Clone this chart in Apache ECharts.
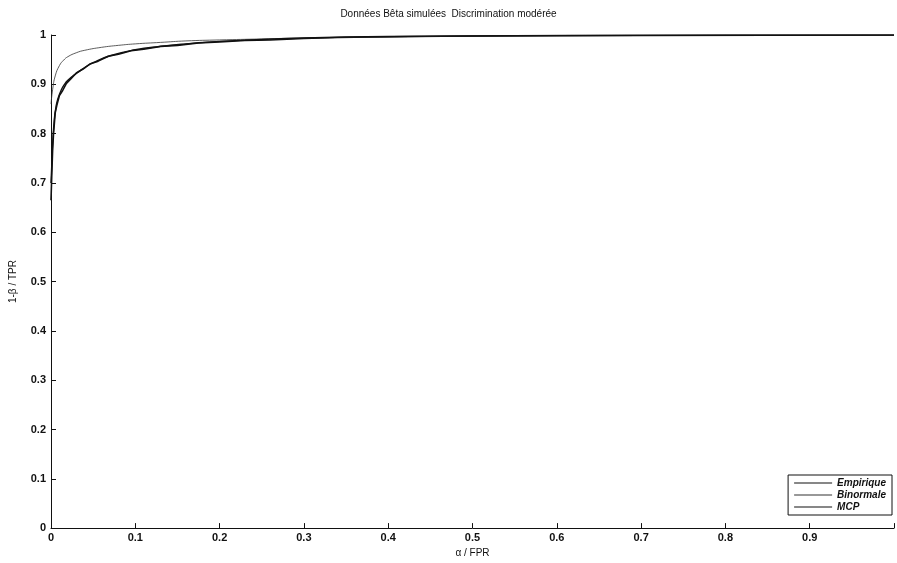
<!DOCTYPE html>
<html>
<head>
<meta charset="utf-8">
<title>Données Bêta simulées</title>
<script src="https://cdn.jsdelivr.net/npm/echarts@6/dist/echarts.min.js"></script>
<style>
  html, body { margin: 0; padding: 0; background: #fff; }
  #chart { width: 897px; height: 563px; }
</style>
</head>
<body>
<div id="chart"></div>
<script>
// ROC curves
var titleText = 'Données Bêta simulées  Discrimination modérée'
var seriesNames = ['Empirique', 'Binormale', 'MCP']

var empX = [0, 0.001, 0.002, 0.003, 0.005, 0.007, 0.01, 0.014, 0.018, 0.024, 0.03, 0.038, 0.046, 0.056, 0.068, 0.08, 0.095, 0.11, 0.13, 0.15, 0.175, 0.2, 0.23, 0.26, 0.3, 0.34, 0.38, 0.43, 0.5, 0.6, 0.8, 1.0]
var empY = [0.665, 0.72, 0.77, 0.8, 0.842, 0.858, 0.877, 0.888, 0.901, 0.912, 0.923, 0.931, 0.941, 0.947, 0.957, 0.961, 0.968, 0.971, 0.977, 0.979, 0.984, 0.986, 0.989, 0.99, 0.993, 0.995, 0.996, 0.997, 0.998, 0.999, 1, 1]

var binX = [0, 0.002, 0.005, 0.01, 0.015, 0.02, 0.03, 0.04, 0.06, 0.08, 0.1, 0.13, 0.16, 0.2, 0.25, 0.3, 0.4, 0.5, 0.6, 0.8, 1.0]
var binY = [0.86, 0.89, 0.917, 0.938, 0.949, 0.956, 0.964, 0.969, 0.975, 0.979, 0.982, 0.985, 0.988, 0.99, 0.992, 0.994, 0.996, 0.998, 0.999, 0.9995, 1]

var mcpX = [0, 0.001, 0.002, 0.004, 0.006, 0.008, 0.012, 0.016, 0.02, 0.03, 0.04, 0.05, 0.07, 0.1, 0.13, 0.16, 0.2, 0.25, 0.3, 0.4, 0.5, 0.7, 1.0]
var mcpY = [0.7, 0.74, 0.78, 0.83, 0.855, 0.87, 0.888, 0.9, 0.908, 0.922, 0.934, 0.944, 0.958, 0.97, 0.977, 0.982, 0.987, 0.991, 0.994, 0.997, 0.998, 0.999, 1]

function pairs(xs, ys) {
  return xs.map(function (x, i) { return [x, ys[i]] })
}

var font = 'Liberation Sans, Arial, sans-serif'
var chart = echarts.init(document.getElementById('chart'))

chart.setOption({
  animation: false,
  backgroundColor: '#fff',
  title: {
    text: titleText,
    left: 'center',
    top: 4,
    textStyle: {
      fontFamily: font,
      fontSize: 10,
      fontWeight: 'normal',
      color: '#111'
    }
  },
  grid: {
    left: 50,
    right: 0,
    top: 35,
    bottom: 32
  },
  legend: {
    orient: 'vertical',
    right: 5,
    top: 475,
    padding: [3, 6, 3, 6],
    itemGap: 2,
    itemWidth: 38,
    itemHeight: 12,
    borderColor: '#111',
    borderWidth: 1,
    backgroundColor: '#fff',
    data: seriesNames.map(function (n) {
      return { name: n, icon: 'path://M0,5 L38,5 L38,6 L0,6 Z' }
    }),
    textStyle: {
      fontFamily: font,
      fontSize: 10,
      fontStyle: 'italic',
      fontWeight: 'bold',
      color: '#111'
    }
  },
  xAxis: {
    type: 'value',
    min: 0,
    max: 1,
    interval: 0.1,
    name: 'α / FPR',
    nameLocation: 'middle',
    nameGap: 19,
    nameTextStyle: { fontFamily: font, fontSize: 10, color: '#111' },
    splitLine: { show: false },
    axisLine: { lineStyle: { color: '#111', width: 1 } },
    axisTick: { inside: true, length: 5, lineStyle: { color: '#111' } },
    axisLabel: {
      fontFamily: font,
      fontSize: 11,
      fontWeight: 'bold',
      color: '#111',
      margin: 4,
      formatter: function (v) { return v >= 1 ? '' : String(+v.toFixed(1)) }
    }
  },
  yAxis: {
    type: 'value',
    min: 0,
    max: 1,
    interval: 0.1,
    name: '1-β / TPR',
    nameLocation: 'middle',
    nameGap: 33,
    nameTextStyle: { fontFamily: font, fontSize: 10, color: '#111' },
    splitLine: { show: false },
    axisLine: { show: true, lineStyle: { color: '#111', width: 1 } },
    axisTick: { inside: true, length: 5, lineStyle: { color: '#111' } },
    axisLabel: {
      fontFamily: font,
      fontSize: 11,
      fontWeight: 'bold',
      color: '#111',
      margin: 5,
      formatter: function (v) { return String(+v.toFixed(1)) }
    }
  },
  series: [
    {
      name: seriesNames[0],
      type: 'line',
      showSymbol: false,
      data: pairs(empX, empY),
      lineStyle: { color: '#111', width: 1.6 },
      itemStyle: { color: '#111' }
    },
    {
      name: seriesNames[1],
      type: 'line',
      smooth: true,
      showSymbol: false,
      data: pairs(binX, binY),
      lineStyle: { color: '#333', width: 0.8 },
      itemStyle: { color: '#333' }
    },
    {
      name: seriesNames[2],
      type: 'line',
      smooth: true,
      showSymbol: false,
      data: pairs(mcpX, mcpY),
      lineStyle: { color: '#111', width: 1.4 },
      itemStyle: { color: '#111' }
    }
  ]
})
</script>
</body>
</html>
